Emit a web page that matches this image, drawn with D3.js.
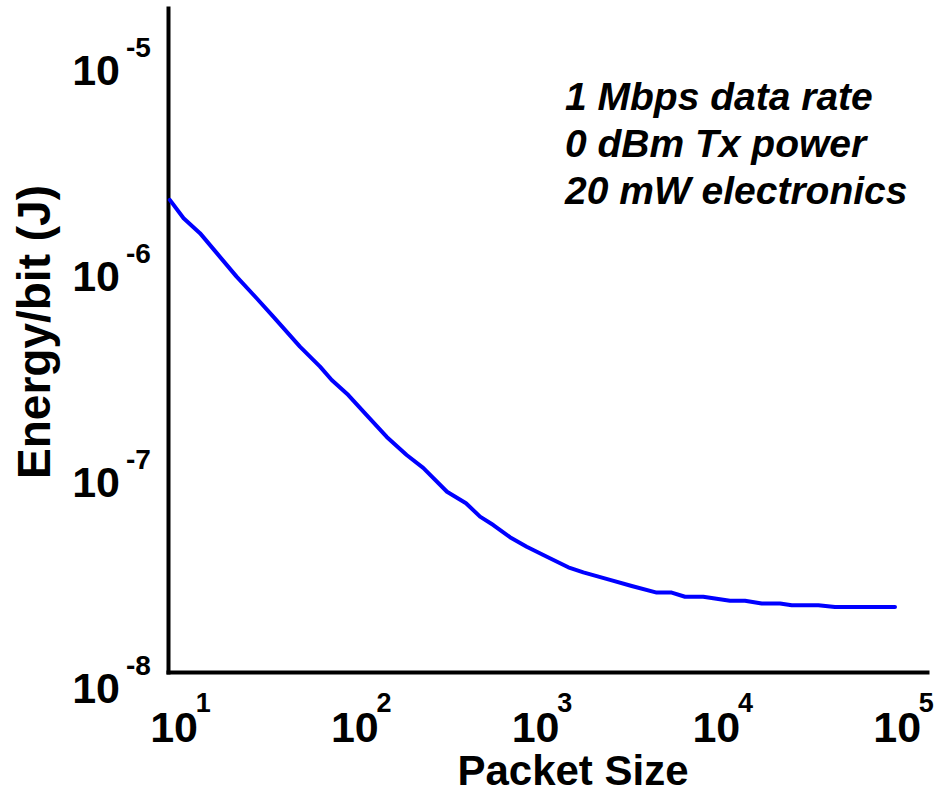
<!DOCTYPE html>
<html>
<head>
<meta charset="utf-8">
<script src="https://cdn.jsdelivr.net/npm/d3@7"></script>
<style>
  html, body { margin: 0; padding: 0; background: #fff; }
  svg { display: block; }
  text { font-family: "Liberation Sans", Arial, Helvetica, sans-serif; font-weight: bold; fill: #000; }
</style>
</head>
<body>
<svg id="chart" width="934" height="794"></svg>
<script>
// Energy per bit versus packet size (log-log)
const packetSize = [9.4, 11.2, 13.8, 17.1, 22.0, 28.4, 35.1, 49.3, 63.7, 73.9, 91.3, 115, 149, 192, 237,
  321, 409, 489, 579, 716, 886, 1191, 1505, 1823, 2561, 3376, 4641, 5619, 6656, 8397,
  11800, 14290, 17690, 22340, 25920, 36400, 44980, 96600];
const energyPerBit = [2.32e-6, 1.89e-6, 1.60e-6, 1.28e-6, 9.84e-7, 7.73e-7, 6.29e-7, 4.50e-7, 3.60e-7, 3.10e-7,
  2.62e-7, 2.10e-7, 1.64e-7, 1.34e-7, 1.16e-7,
  8.89e-8, 7.82e-8, 6.73e-8, 6.13e-8, 5.35e-8, 4.81e-8, 4.23e-8, 3.82e-8, 3.61e-8, 3.32e-8,
  3.10e-8, 2.88e-8, 2.88e-8, 2.75e-8, 2.75e-8,
  2.63e-8, 2.63e-8, 2.55e-8, 2.55e-8, 2.50e-8, 2.50e-8, 2.45e-8, 2.45e-8];

const xTickExponents = [1, 2, 3, 4, 5];
const yTickExponents = [-5, -6, -7, -8];
const annotationLines = ["1 Mbps data rate", "0 dBm Tx power", "20 mW electronics"];
const xTitle = "Packet Size";
const yTitle = "Energy/bit (J)";

const svg = d3.select("#chart");

const plot = { left: 168, right: 927, top: 8, bottom: 672 };

const x = d3.scaleLog()
  .domain([Math.pow(10, 0.963), Math.pow(10, 5.162)])
  .range([plot.left, plot.right]);

const y = d3.scaleLog()
  .domain([Math.pow(10, -7.926), Math.pow(10, -4.703)])
  .range([plot.bottom, plot.top]);

// axis lines (no tick marks, labels drawn separately as powers of ten)
const xAxis = svg.append("g")
  .attr("transform", `translate(0,${plot.bottom})`)
  .call(d3.axisBottom(x).tickValues([]).tickSizeOuter(0));
const yAxis = svg.append("g")
  .attr("transform", `translate(${plot.left},0)`)
  .call(d3.axisLeft(y).tickValues([]).tickSizeOuter(0));
[xAxis, yAxis].forEach(g => g.select(".domain")
  .attr("stroke", "#000")
  .attr("stroke-width", 4)
  .attr("stroke-linecap", "square"));

// x tick labels: 10 with superscript exponent
const xLab = svg.append("g").selectAll("g")
  .data(xTickExponents).join("g")
  .attr("transform", d => `translate(${x(Math.pow(10, d))},0)`);
xLab.append("text")
  .attr("x", -24.5).attr("y", 742)
  .attr("font-size", 43)
  .text("10");
xLab.append("text")
  .attr("x", 21).attr("y", 712)
  .attr("font-size", 27)
  .text(d => d);

// y tick labels
const yLab = svg.append("g").selectAll("g")
  .data(yTickExponents).join("g")
  .attr("transform", d => `translate(0,${y(Math.pow(10, d))})`);
yLab.append("text")
  .attr("x", 120).attr("y", 16)
  .attr("text-anchor", "end")
  .attr("font-size", 43)
  .text("10");
yLab.append("text")
  .attr("x", 126).attr("y", -12)
  .attr("font-size", 28)
  .text(d => d);

// curve
const line = d3.line()
  .x((d, i) => x(packetSize[i]))
  .y(d => y(d));
svg.append("path")
  .datum(energyPerBit)
  .attr("d", line)
  .attr("fill", "none")
  .attr("stroke", "#0000ff")
  .attr("stroke-width", 4)
  .attr("stroke-linejoin", "round")
  .attr("stroke-linecap", "round");

// axis titles
svg.append("text")
  .attr("x", 573).attr("y", 785)
  .attr("text-anchor", "middle")
  .attr("font-size", 42)
  .text(xTitle);
svg.append("text")
  .attr("transform", "translate(50,332) rotate(-90)")
  .attr("text-anchor", "middle")
  .attr("font-size", 46)
  .text(yTitle);

// operating conditions
svg.append("g").selectAll("text")
  .data(annotationLines).join("text")
  .attr("x", 565)
  .attr("y", (d, i) => 110 + i * 47)
  .attr("font-size", 39)
  .attr("font-style", "italic")
  .text(d => d);
</script>
</body>
</html>
